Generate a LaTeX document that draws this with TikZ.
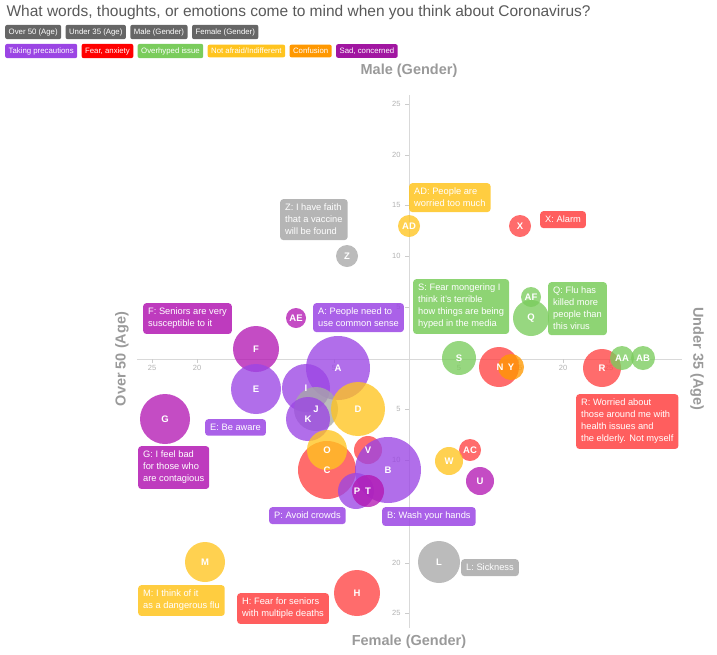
\documentclass[tikz,border=0pt]{standalone}
\usepackage{fontspec}
\setmainfont{Liberation Sans}
\usetikzlibrary{positioning}
\definecolor{cpurple}{HTML}{9B45E4}
\definecolor{cred}{HTML}{FF4242}
\definecolor{cgreen}{HTML}{7ACC5C}
\definecolor{cyellow}{HTML}{FFC41F}
\definecolor{corange}{HTML}{FF9800}
\definecolor{csad}{HTML}{B319B3}
\definecolor{cgray}{HTML}{A8A8A8}
\definecolor{cbtn}{HTML}{666666}
\definecolor{caxis}{HTML}{9A9A9A}
\tikzset{
  bubtxt/.style={text=white,font=\bfseries\fontsize{9.5}{9.5}\selectfont},
  tag/.style={fill=#1,rounded corners=3pt,text=white,align=left,inner xsep=5pt,inner ysep=5pt,
    font=\fontsize{9.3}{12}\selectfont,anchor=north west,fill opacity=0.85,text opacity=1},
  btn/.style={fill=#1,rounded corners=2pt,text=white,inner sep=3.5pt,
    font=\fontsize{7.8}{7.8}\selectfont,anchor=west},
  ticklbl/.style={text=black!30,font=\fontsize{7.5}{7.5}\selectfont},
  axtitle/.style={text=caxis,font=\bfseries\fontsize{14.5}{14.5}\selectfont}
}
\begin{document}
\begin{tikzpicture}[x=1pt,y=-1pt]
\useasboundingbox (0,0) rectangle (717,654);
\node[anchor=west,text=black!65,font=\fontsize{15.5}{16}\selectfont] (title) at (3,12)
  {What words, thoughts, or emotions come to mind when you think about Coronavirus?};
% legend
\node[btn=cbtn] (l1) at (5,32) {Over 50 (Age)};
\node[btn=cbtn,right=4pt of l1] (l2) {Under 35 (Age)};
\node[btn=cbtn,right=4pt of l2] (l3) {Male (Gender)};
\node[btn=cbtn,right=4pt of l3] (l4) {Female (Gender)};
\node[btn=cpurple] (c1) at (5,51) {Taking precautions};
\node[btn=red,right=4pt of c1] (c2) {Fear, anxiety};
\node[btn=cgreen,right=4pt of c2] (c3) {Overhyped issue};
\node[btn=cyellow,right=4pt of c3] (c4) {Not afraid/Indifferent};
\node[btn=corange,right=4pt of c4] (c5) {Confusion};
\node[btn=csad!90!black,right=4pt of c5] (c6) {Sad, concerned};
% axes
\draw[black!15] (409,95) -- (409,628);
\draw[black!15] (137,359) -- (682,359);
\foreach \y/\t in {104/25,155/20,205/15,256/10,307/5,409/5,460/10,563/20,613/25} {
  \draw[black!20] (405,\y) -- (409,\y);
  \node[ticklbl,anchor=east] at (404,\y) {\t};
}
\foreach \x/\t in {152/25,197/20,334/5,459/5,518/15,563/20,609/25} {
  \draw[black!20] (\x,359) -- (\x,363);
  \node[ticklbl] at (\x,368) {\t};
}
\node[axtitle] (male) at (409,71) {Male (Gender)};
\node[axtitle] (female) at (409,642) {Female (Gender)};
\node[axtitle,rotate=90] (over) at (122,359) {Over 50 (Age)};
\node[axtitle,rotate=-90] (under) at (697,359) {Under 35 (Age)};
% bubbles
\foreach \n/\x/\y/\r/\c in {AD/409/226/11/cyellow, X/520/226/11/cred, Z/347/256/11/cgray,
    AE/296/318/10/csad, Q/531/318/18/cgreen, AF/531/297/10/cgreen, S/459/358/17/cgreen,
    N/499/367/20/cred, Y/511/367/13/corange, R/602/368/19/cred, AA/622/358/12/cgreen,
    AB/643/358/12/cgreen, F/256/349/23/csad, E/256/389/25/cpurple, A/338/368/32/cpurple,
    I/306/388/24/cpurple, J/316/409/22/cgray, K/308/419/22/cpurple, D/358/409/27/cyellow,
    G/165/419/25/csad, C/327/470/29/cred, O/327/450/20/cyellow, V/368/450/14/cred,
    B/388/470/33/cpurple, P/356/491/18/cpurple, T/368/491/16/csad, AC/470/450/11/cred,
    W/449/461/14/cyellow, U/480/481/14/csad, M/205/562/20/cyellow, L/439/562/21/cgray,
    H/357/593/23/cred} {
  \fill[\c,fill opacity=0.78] (\x,\y) circle (\r);
}
\foreach \n/\x/\y in {AD/409/226, X/520/226, Z/347/256, AE/296/318, Q/531/318, AF/531/297,
    S/459/358, N/500/367, Y/511/367, R/602/368, AA/622/358, AB/643/358, F/256/349, E/256/389,
    A/338/368, I/306/388, J/316/409, K/308/419, D/358/409, G/165/419, C/327/470,
    O/327/450, V/368/450, B/388/470, P/357/491, T/368/491, AC/470/450, W/449/461, U/480/481,
    M/205/562, L/439/562, H/357/593} {
  \node[bubtxt] (b\n) at (\x,\y) {\n};
}
% labels
\node[tag=cyellow] (tAD) at (409,183) {AD: People are\\worried too much};
\node[tag=cred] (tX) at (540,211) {X: Alarm};
\node[tag=cgray] (tZ) at (280,199) {Z: I have faith\\that a vaccine\\will be found};
\node[tag=csad] (tF) at (143,303) {F: Seniors are very\\susceptible to it};
\node[tag=cpurple] (tA) at (313,303) {A: People need to\\use common sense};
\node[tag=cgreen] (tS) at (413,279) {S: Fear mongering I\\think it's terrible\\how things are being\\hyped in the media};
\node[tag=cgreen] (tQ) at (548,282) {Q: Flu has\\killed more\\people than\\this virus};
\node[tag=cred] (tR) at (576,394) {R: Worried about\\those around me with\\health issues and\\the elderly. Not myself};
\node[tag=cpurple] (tE) at (205,419) {E: Be aware};
\node[tag=csad] (tG) at (138,446) {G: I feel bad\\for those who\\are contagious};
\node[tag=cpurple] (tP) at (269,507) {P: Avoid crowds};
\node[tag=cpurple] (tB) at (382,507) {B: Wash your hands};
\node[tag=cgray] (tL) at (461,559) {L: Sickness};
\node[tag=cyellow] (tM) at (138,585) {M: I think of it\\as a dangerous flu};
\node[tag=cred] (tH) at (237,593) {H: Fear for seniors\\with multiple deaths};
\end{tikzpicture}
\end{document}
